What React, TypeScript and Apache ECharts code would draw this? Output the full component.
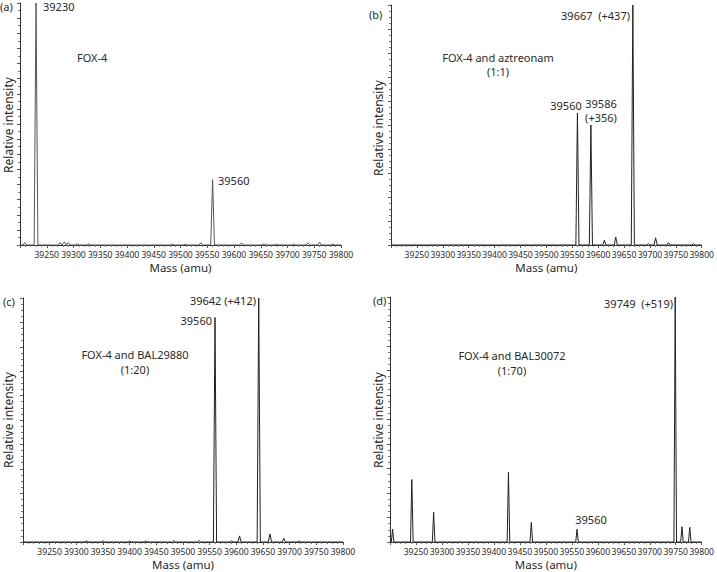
import React, { useEffect, useRef } from "react";
import * as echarts from "echarts";

// Mass range and tick labels
const massMin = 39200;
const massMax = 39800;
const tickStep = 50;

// Panel (a): FOX-4
const massA = [39209, 39230, 39275, 39283, 39290, 39307, 39329, 39485, 39509, 39538, 39560, 39614, 39656, 39680, 39712, 39738, 39760, 39785];
const intA = [1, 100, 1, 1.3, 1, 0.5, 0.5, 0.3, 0.3, 0.9, 27, 0.9, 0.4, 0.4, 0.4, 0.9, 1.1, 0.4];

// Panel (b): FOX-4 and aztreonam
const massB = [39560, 39586, 39612, 39634, 39667, 39697, 39711, 39736, 39784];
const intB = [55, 50, 2, 3.3, 100, 0.6, 3, 1, 0.5];

// Panel (c): FOX-4 and BAL29880
const massC = [39319, 39350, 39400, 39430, 39483, 39530, 39560, 39591, 39606, 39642, 39663, 39689, 39718];
const intC = [0.4, 0.5, 0.4, 0.4, 0.6, 0.6, 92, 0.4, 2.5, 100, 3.3, 1.5, 0.4];

// Panel (d): FOX-4 and BAL30072
const massD = [39205, 39242, 39284, 39428, 39472, 39560, 39749, 39762, 39777];
const intD = [5.2, 25.5, 12.2, 28.5, 8, 5.2, 100, 6.2, 6];

function spectrum(masses: number[], ints: number[], hw: number) {
  const pts: number[][] = [[massMin, 0]];
  masses.forEach((m, i) => {
    pts.push([m - hw, 0], [m, ints[i]], [m + hw, 0]);
  });
  pts.push([massMax, 0]);
  return pts;
}

const FONT = "Noto Sans";
const TXT = "#2a2a2a";

type Panel = {
  left: number; top: number; width: number; height: number;
  data: number[][]; color: string; yInt: number; ySplit: number;
};

export default function App() {
  const ref = useRef<HTMLDivElement>(null);
  useEffect(() => {
    if (!ref.current) return;
    const chart = echarts.init(ref.current, undefined, { renderer: "svg" });
    const panels: Panel[] = [
      { left: 20, top: 3, width: 321, height: 242, data: spectrum(massA, intA, 3.5), color: "#555", yInt: 6.25, ySplit: 2 },
      { left: 391, top: 5, width: 312, height: 240, data: spectrum(massB, intB, 3), color: "#222", yInt: 10, ySplit: 4 },
      { left: 23, top: 298, width: 320, height: 244, data: spectrum(massC, intC, 3), color: "#222", yInt: 10, ySplit: 4 },
      { left: 390, top: 297, width: 313, height: 245, data: spectrum(massD, intD, 2.5), color: "#222", yInt: 10, ySplit: 4 },
    ];
    const grid = panels.map((p) => ({ left: p.left, top: p.top, width: p.width, height: p.height }));
    const xAxis = panels.map((_, i) => ({
      type: "value",
      gridIndex: i,
      min: massMin,
      max: massMax,
      interval: tickStep,
      name: "Mass (amu)",
      nameLocation: "middle",
      nameGap: 16,
      nameTextStyle: { fontFamily: FONT, fontSize: 11.5, color: TXT, verticalAlign: "top" },
      axisLine: { lineStyle: { color: "#333", width: 1 } },
      axisTick: { show: true, length: 3, lineStyle: { color: "#555" } },
      minorTick: { show: true, splitNumber: 5, length: 2, lineStyle: { color: "#777" } },
      axisLabel: {
        fontFamily: FONT,
        fontSize: 8.6,
        color: TXT,
        margin: 5,
        showMaxLabel: true,
        showMinLabel: true,
        formatter: (v: number) => (v === massMin ? "" : String(v)),
      },
      splitLine: { show: false },
    }));
    const yAxis = panels.map((p, i) => ({
      type: "value",
      gridIndex: i,
      min: 0,
      max: 100,
      interval: p.yInt,
      axisLine: { show: true, lineStyle: { color: "#333", width: 1 } },
      axisTick: { show: true, length: 3, lineStyle: { color: "#555" } },
      minorTick: { show: true, splitNumber: p.ySplit, length: 2, lineStyle: { color: "#777" } },
      axisLabel: { show: false },
      splitLine: { show: false },
    }));
    const series = panels.map((p, i) => ({
      type: "line",
      xAxisIndex: i,
      yAxisIndex: i,
      data: p.data,
      symbol: "none",
      lineStyle: { color: p.color, width: 1 },
      silent: true,
    }));
    const t = (text: string, x: number, y: number, align = "left", size = 11) => ({
      type: "text",
      x,
      y,
      style: { text, fontFamily: FONT, fontSize: size, fill: TXT, align, verticalAlign: "middle" },
    });
    const rot = (x: number, y: number) => ({
      type: "text",
      x,
      y,
      rotation: Math.PI / 2,
      style: { text: "Relative intensity", fontFamily: FONT, fontSize: 12, fill: TXT, align: "center", verticalAlign: "middle" },
    });
    const graphic = [
      t("(a)", 0, 6),
      t("39230", 43, 6),
      t("FOX-4", 77, 57),
      t("39560", 218, 180),
      rot(8, 125),
      t("(b)", 369, 14),
      t("39667  (+437)", 630, 15, "right"),
      t("FOX-4 and aztreonam", 498, 57, "center"),
      t("(1:1)", 498, 71, "center"),
      t("39560", 566, 105, "center"),
      t("39586", 601, 103, "center"),
      t("(+356)", 601, 117, "center"),
      rot(378, 128),
      t("(c)", 3, 301),
      t("39642 (+412)", 256, 300, "right"),
      t("39560", 212, 320, "right"),
      t("FOX-4 and BAL29880", 135, 354, "center"),
      t("(1:20)", 135, 369, "center"),
      rot(8, 420),
      t("(d)", 373, 300),
      t("39749  (+519)", 673, 303, "right"),
      t("FOX-4 and BAL30072", 512, 355, "center"),
      t("(1:70)", 512, 370, "center"),
      t("39560", 591, 519, "center"),
      rot(378, 420),
    ];
    chart.setOption({
      animation: false,
      backgroundColor: "#fff",
      grid,
      xAxis,
      yAxis,
      series,
      graphic,
    } as any);
    return () => chart.dispose();
  }, []);
  return <div ref={ref} style={{ width: 717, height: 572, position: "absolute", left: 0, top: 0 }} />;
}
